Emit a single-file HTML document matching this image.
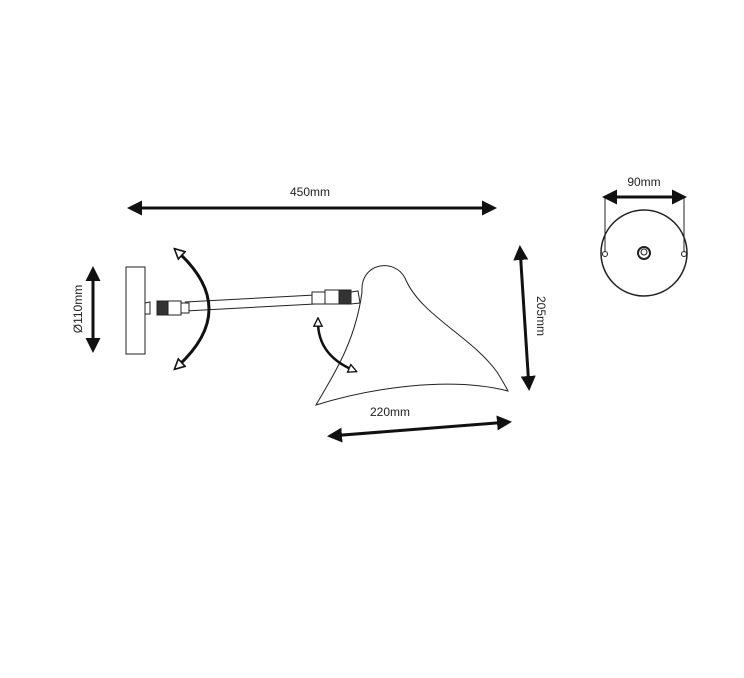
<!DOCTYPE html>
<html><head><style>body{margin:0;background:#fff}svg{display:block}</style></head><body>
<svg width="744" height="678" viewBox="0 0 744 678" xmlns="http://www.w3.org/2000/svg" font-family="Liberation Sans, sans-serif">
<defs>
<marker id="a" viewBox="0 0 10 10" refX="8" refY="5" markerWidth="5" markerHeight="5" orient="auto-start-reverse"><path d="M0,0L10,5L0,10z" fill="#111"/></marker>
<marker id="h" viewBox="0 0 12 12" refX="6" refY="6" markerWidth="4" markerHeight="4" orient="auto-start-reverse"><path d="M1,1L11,6L1,11z" fill="#fff" stroke="#111" stroke-width="1.6"/></marker>
</defs>
<g stroke="#222" stroke-width="1" fill="#fff">
<rect x="126" y="267" width="19" height="87"/>
<path d="M145,303 L150,302 L150,314 L145,314z"/>
<path d="M185,302 L315,295 M185,311 L315,304"/>
<rect x="157" y="301" width="12" height="14" fill="#333"/>
<rect x="168" y="301" width="13" height="14"/>
<rect x="181" y="303" width="8" height="10"/>
<rect x="312" y="292" width="14" height="12"/>
<rect x="325" y="290" width="14" height="14"/>
<rect x="339" y="290" width="12" height="14" fill="#333"/>
<path d="M351,292 L358,291 L360,303 L351,304z"/>
<path fill="none" d="M362,292 C360,262 395,258 405,278 C420,315 470,335 497,372 C502,380 506,387 508,391 C450,376 370,388 316,405 C330,380 355,345 362,292z"/>
<line x1="605" y1="197" x2="605" y2="252"/>
<line x1="684" y1="197" x2="684" y2="252"/>
<circle cx="644" cy="253" r="43" fill="none" stroke-width="1.5"/>
<circle cx="605" cy="254" r="2.5"/>
<circle cx="684" cy="254" r="2.5"/>
<circle cx="644" cy="253" r="6" stroke-width="2"/>
<circle cx="644" cy="252" r="3"/>
</g>
<g stroke="#111" stroke-width="3" fill="none">
<line x1="130" y1="208" x2="494" y2="208" marker-start="url(#a)" marker-end="url(#a)"/>
<line x1="93" y1="269" x2="93" y2="350" marker-start="url(#a)" marker-end="url(#a)"/>
<line x1="520" y1="248" x2="529" y2="388" marker-start="url(#a)" marker-end="url(#a)"/>
<line x1="330" y1="436" x2="509" y2="422" marker-start="url(#a)" marker-end="url(#a)"/>
<line x1="605" y1="197" x2="684" y2="197" marker-start="url(#a)" marker-end="url(#a)"/>
<path d="M178,252 Q240,309 178,366" marker-start="url(#h)" marker-end="url(#h)"/>
<path d="M318,322 Q318,355 353,370" stroke-width="2.5" marker-start="url(#h)" marker-end="url(#h)"/>
</g>
<g fill="#222" font-size="12">
<text x="310" y="196" text-anchor="middle">450mm</text>
<text x="644" y="186" text-anchor="middle">90mm</text>
<text x="390" y="416" text-anchor="middle">220mm</text>
<text transform="translate(82,309) rotate(-90)" text-anchor="middle">Ø110mm</text>
<text transform="translate(537,316) rotate(90)" text-anchor="middle">205mm</text>
</g>
</svg>
</body></html>
